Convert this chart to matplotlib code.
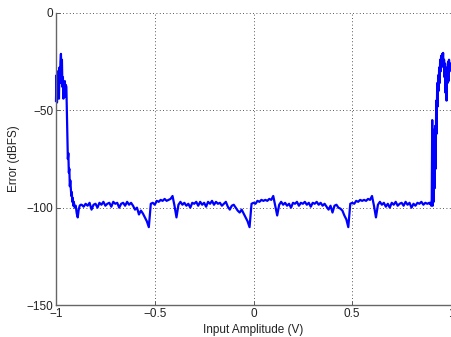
import numpy as np
import matplotlib
matplotlib.use("Agg")
import matplotlib.pyplot as plt

# ---- data ----
left_x = [-1.000, -0.9975, -0.995, -0.9925, -0.990, -0.9875, -0.985, -0.9825, -0.980, -0.9775,
          -0.975, -0.9725, -0.970, -0.9675, -0.965, -0.9625, -0.960, -0.9575, -0.955, -0.9525,
          -0.950, -0.9475, -0.945, -0.9425, -0.940, -0.9375, -0.935, -0.9325, -0.930, -0.9275,
          -0.925, -0.9225, -0.920, -0.9175, -0.915, -0.9125, -0.910, -0.905, -0.900, -0.895,
          -0.890, -0.885, -0.880, -0.875]
left_y = [-45, -32, -46, -30, -40, -33, -44, -28, -36, -25,
          -21, -30, -24, -38, -33, -44, -36, -42, -35, -43,
          -37, -38, -50, -62, -75, -72, -82, -80, -89, -86,
          -90, -94, -92, -97, -95, -99, -97, -100, -99, -103,
          -105, -101, -99, -98.5]

mid_x = np.round(np.arange(-0.87, 0.895, 0.01), 2)
mid_y = [-98.5, -99.5, -98, -99, -97.5, -101, -98.5, -98, -100, -97.5,
         -98.5, -97, -99, -98, -97.5, -99.5, -97, -98, -97.5, -100,
         -98, -97.5, -99, -97, -98.5, -97.5, -99, -101, -100, -103.5,
         -101.5, -103, -105, -107, -110, -98, -97.5, -98.5, -96.5, -97,
         -96, -96.5, -95.5, -96.5, -96, -95.5, -94, -99, -105, -98.5,
         -97, -98.5, -97.5, -99, -98, -100, -97.5, -98, -97, -99,
         -97, -98.5, -97.5, -99.5, -97, -98, -96.5, -98.5, -97, -98,
         -97.5, -99, -98, -97, -99.5, -101, -99, -98.5, -100, -101.5,
         -102.5, -101, -103, -105, -107, -110, -98, -97.5, -98, -96.5,
         -97, -96, -96.5, -96, -96.5, -95.5, -96, -94, -99, -104,
         -98.5, -97, -98.5, -97.5, -99, -98, -100, -97.5, -98, -97,
         -99, -97.5, -98, -97, -98.5, -97.5, -99.5, -97.5, -98, -97,
         -98.5, -97.5, -99, -98, -99.5, -101, -99, -102.5, -99, -98.5,
         -100, -100.5, -101.5, -104, -106, -110, -98, -97.5, -98, -96.5,
         -97, -96, -96.5, -96, -96.5, -95.5, -96, -94, -99, -105,
         -98.5, -97, -98.5, -97.5, -99.5, -98, -100, -97.5, -98.5, -97,
         -99, -98, -97.5, -99, -97, -98.5, -97.5, -100, -98, -99,
         -97.5, -98, -97, -98.5, -97.5, -98, -97.5]

right_x = [0.8925, 0.895, 0.900, 0.9025, 0.905, 0.9075, 0.910, 0.9125, 0.915, 0.9175,
           0.920, 0.9225, 0.925, 0.9275, 0.930, 0.9325, 0.935, 0.9375, 0.940, 0.9425,
           0.945, 0.9475, 0.950, 0.9525, 0.955, 0.9575, 0.960, 0.9625, 0.965, 0.9675,
           0.970, 0.9725, 0.975, 0.9775, 0.980, 0.9825, 0.985, 0.9875, 0.990, 0.9925, 0.995]
right_y = [-98, -97.5, -99, -96, -55, -99, -60, -97, -65, -90,
           -58, -80, -45, -62, -36, -48, -32, -40, -28, -36,
           -24, -30, -22, -27, -21, -25, -20.5, -28, -24, -33,
           -26, -41, -30, -45, -28, -36, -25, -35, -24, -30, -26]

x_ticks = [-1, -0.5, 0, 0.5, 1]
x_ticklabels = ["\u22121", "\u22120.5", "0", "0.5", "1"]
y_ticks = [-150, -100, -50, 0]
y_ticklabels = ["\u2212150", "\u2212100", "\u221250", "0"]

# ---- plot ----
plt.rcParams['font.family'] = ['Liberation Sans', 'DejaVu Sans']
fig = plt.figure(figsize=(4.51, 3.37), dpi=100)
ax = fig.add_axes([56/451, 32/337, 395/451, 292/337])

x = np.concatenate([left_x, mid_x, right_x])
y = np.concatenate([left_y, mid_y, right_y])
ax.plot(x, y, color='#0000ff', lw=1.6, clip_on=False)

ax.set_xlim(-1, 1)
ax.set_ylim(-150, 0)
ax.set_xticks(x_ticks)
ax.set_xticklabels(x_ticklabels)
ax.set_yticks(y_ticks)
ax.set_yticklabels(y_ticklabels)
ax.tick_params(direction='in', length=3, width=0.6, colors='#444444', labelsize=8.5,
               labelcolor='#222222', pad=2)
ax.grid(True, linestyle=(0, (1, 3)), color='#222222', lw=0.6)
for s in ['top', 'right']:
    ax.spines[s].set_visible(False)
for s in ['left', 'bottom']:
    ax.spines[s].set_color('#666666')
    ax.spines[s].set_linewidth(1.0)

ax.set_xlabel("Input Amplitude (V)", fontsize=8.5, color='#222222', labelpad=3)
ax.set_ylabel("Error (dBFS)", fontsize=8.5, color='#222222', labelpad=5)

fig.savefig("out.png", dpi=100)
